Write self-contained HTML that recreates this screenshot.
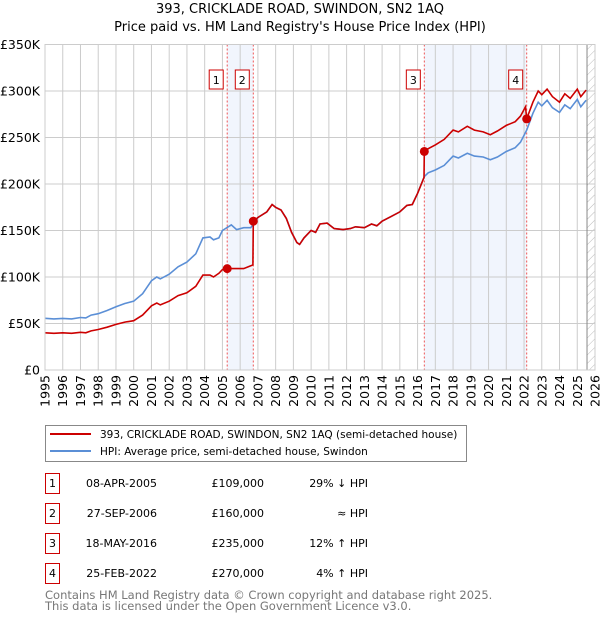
<!DOCTYPE html>
<html><head><meta charset="utf-8"><style>
body{margin:0;background:#fff;font-family:"DejaVu Sans","Liberation Sans",sans-serif;}
svg text{font-family:"DejaVu Sans","Liberation Sans",sans-serif;}
</style></head><body>
<svg id="c" width="600" height="620" xmlns="http://www.w3.org/2000/svg">
<defs><pattern id="hatch" width="6" height="6" patternUnits="userSpaceOnUse" patternTransform="rotate(45)"><line x1="0" y1="0" x2="0" y2="6" stroke="#bbb" stroke-width="1"/></pattern></defs>
<text x="300" y="13" text-anchor="middle" font-size="13">393, CRICKLADE ROAD, SWINDON, SN2 1AQ</text>
<text x="300" y="31" text-anchor="middle" font-size="13">Price paid vs. HM Land Registry's House Price Index (HPI)</text>
<g id="plot"></g>
<g>
<rect x="45.5" y="425.5" width="421" height="36" fill="#fff" stroke="#888"/>
<line x1="50" y1="434" x2="91" y2="434" stroke="#cc0000" stroke-width="2"/>
<text x="100" y="438" font-size="10.5">393, CRICKLADE ROAD, SWINDON, SN2 1AQ (semi-detached house)</text>
<line x1="50" y1="451" x2="91" y2="451" stroke="#5b8fd6" stroke-width="2"/>
<text x="100" y="455" font-size="10.5">HPI: Average price, semi-detached house, Swindon</text>
</g>
<g id="table"></g>
<text x="45" y="599" font-size="11.5" fill="#777">Contains HM Land Registry data © Crown copyright and database right 2025.</text>
<text x="45" y="610" font-size="11.5" fill="#777">This data is licensed under the Open Government Licence v3.0.</text>
</svg>
<script>
const hpiT=[1995,1995.5,1996,1996.5,1997,1997.3,1997.6,1998,1998.5,1999,1999.5,2000,2000.5,2001,2001.3,2001.5,2002,2002.5,2003,2003.5,2003.9,2004.3,2004.5,2004.8,2005,2005.5,2005.8,2006.2,2006.6,2007,2007.5,2007.8,2008,2008.3,2008.6,2008.9,2009.2,2009.35,2009.6,2010,2010.25,2010.5,2010.9,2011.3,2011.8,2012.2,2012.5,2013,2013.4,2013.7,2014,2014.5,2015,2015.4,2015.7,2016,2016.38,2016.6,2017,2017.5,2018,2018.3,2018.8,2019.2,2019.7,2020.1,2020.5,2021,2021.5,2021.8,2022.15,2022.5,2022.8,2023,2023.3,2023.6,2024,2024.3,2024.6,2025,2025.2,2025.5];
const hpiV=[55.6,55,55.5,55,56.5,56,59,60.5,64,68,71.5,74,82,96,100,98,103,111,116,125,142,143,140,142,150,156,151,153,153,164,170,178,175,172,163,148,137,135,142,150,148,157,158,152,151,152,154,153,157,155,160,165,170,177,178,190,208,212,215,220,230,228,233,230,229,226,229,235,239,245,258,276,288,284,290,282,277,285,281,291,283,290];
const redT=[1995,1995.5,1996,1996.5,1997,1997.3,1997.6,1998,1998.5,1999,1999.5,2000,2000.5,2001,2001.3,2001.5,2002,2002.5,2003,2003.5,2003.9,2004.3,2004.5,2004.8,2005,2005.27,2005.6,2006.2,2006.6,2006.72,2006.74,2007,2007.5,2007.8,2008,2008.3,2008.6,2008.9,2009.2,2009.35,2009.6,2010,2010.25,2010.5,2010.9,2011.3,2011.8,2012.2,2012.5,2013,2013.4,2013.7,2014,2014.5,2015,2015.4,2015.7,2016,2016.36,2016.38,2016.6,2017,2017.5,2018,2018.3,2018.8,2019.2,2019.7,2020.1,2020.5,2021,2021.5,2021.8,2022.08,2022.15,2022.5,2022.8,2023,2023.3,2023.6,2024,2024.3,2024.6,2025,2025.2,2025.5];
const redV=[40,39.5,40,39.5,40.5,40,42,43.5,46,49,51.5,53,59,69,72,70,74,80,83,90,102,102,100,104,108,109,109,109,112,113,160,164,170,178,175,172,163,148,137,135,142,150,148,157,158,152,151,152,154,153,157,155,160,165,170,177,178,190,207,235,238,242,248,258,256,262,258,256,253,257,263,267,273,283,270,288,300,296,302,294,288,297,292,302,294,301];
const saleT=[2005.27,2006.74,2016.38,2022.15];
const saleV=[109,160,235,270];
const saleLbl=["1","2","3","4"];
const saleDate=["08-APR-2005","27-SEP-2006","18-MAY-2016","25-FEB-2022"];
const salePrice=["£109,000","£160,000","£235,000","£270,000"];
const saleRel=["29% ↓ HPI","≈ HPI","12% ↑ HPI","4% ↑ HPI"];
const yTicks=[0,50,100,150,200,250,300,350];
const yLbl=["£0","£50K","£100K","£150K","£200K","£250K","£300K","£350K"];
const xTicks=[1995,1996,1997,1998,1999,2000,2001,2002,2003,2004,2005,2006,2007,2008,2009,2010,2011,2012,2013,2014,2015,2016,2017,2018,2019,2020,2021,2022,2023,2024,2025,2026];

const X0=45,X1=595,Y0=370,Y1=44.5;
const xs=t=>X0+(t-1995)/(2026-1995)*(X1-X0);
const ys=v=>Y0-v/350*(Y0-Y1);
const NS="http://www.w3.org/2000/svg";
const plot=document.getElementById('plot');
function mk(tag,attrs,parent){const e=document.createElementNS(NS,tag);for(const k in attrs)e.setAttribute(k,attrs[k]);(parent||plot).appendChild(e);return e;}

for(let i=0;i<saleT.length;i+=2){
  const r=mk('rect',{x:xs(saleT[i]),y:Y1,width:xs(saleT[i+1])-xs(saleT[i]),height:Y0-Y1,fill:'#eef3fd',opacity:0.8});
  
  
}
const h=mk('rect',{x:xs(2025.55),y:Y1,width:X1-xs(2025.55),height:Y0-Y1,fill:'url(#hatch)'});


xTicks.forEach((t,i)=>{
  const l=mk('line',{x1:xs(t),x2:xs(t),y1:Y1,y2:Y0,stroke:'#ccc','stroke-width':1});
  
  
  const tx=mk('text',{x:0,y:0,'font-size':12.5,'text-anchor':'end',transform:`translate(${xs(t)+4.5},375) rotate(-90)`});
  tx.textContent=t;
  
  
});
yTicks.forEach((v,i)=>{
  const l=mk('line',{x1:X0,x2:X1,y1:ys(v),y2:ys(v),stroke:'#ccc','stroke-width':1});
  
  
  const tx=mk('text',{x:40,y:ys(v)+4.5,'font-size':12.5,'text-anchor':'end'});
  tx.textContent=yLbl[i];
  
  
});
const fl=mk('line',{x1:xs(2025.55),x2:xs(2025.55),y1:Y1,y2:Y0,stroke:'#888','stroke-width':1});


saleT.forEach((t,i)=>{
  const l=mk('line',{x1:xs(t),x2:xs(t),y1:Y1,y2:Y0,stroke:'#e55','stroke-width':1,'stroke-dasharray':'2,2'});
  
  
  const bx=xs(t)-11;
  const b=mk('rect',{x:bx-7,y:70,width:14,height:19,fill:'#fff',stroke:'#cc0000'});
  
  
  const tx=mk('text',{x:bx,y:84,'font-size':11,'text-anchor':'middle'});
  tx.textContent=saleLbl[i];
  
  
});
const pts=(T,V)=>T.map((t,i)=>xs(t).toFixed(1)+','+ys(V[i]).toFixed(1)).join(' ');
const hp=mk('polyline',{points:pts(hpiT,hpiV),fill:'none',stroke:'#5b8fd6','stroke-width':1.6});


const rp=mk('polyline',{points:pts(redT,redV),fill:'none',stroke:'#cc0000','stroke-width':1.6});


saleT.forEach((t,i)=>{
  const c=mk('circle',{cx:xs(t),cy:ys(saleV[i]),r:4.5,fill:'#cc0000'});
  
  
});
const fr=mk('rect',{x:X0,y:Y1,width:X1-X0,height:Y0-Y1,fill:'none',stroke:'#ccc'});


const tb=document.getElementById('table');
saleT.forEach((t,i)=>{
  const cy=483+i*30;
  const b=mk('rect',{x:45.5,y:cy-9.5,width:14,height:20,fill:'#fff',stroke:'#cc0000'},tb);
  
  
  const cells=[[52.5,saleLbl[i],'middle'],[157,saleDate[i],'end'],[264,salePrice[i],'end'],[368,saleRel[i],'end']];
  cells.forEach(c=>{
    const tx=mk('text',{x:c[0],y:cy+4,'font-size':11,'text-anchor':c[2]},tb);
    tx.textContent=c[1];
    
    
  });
});
</script>
</body></html>
